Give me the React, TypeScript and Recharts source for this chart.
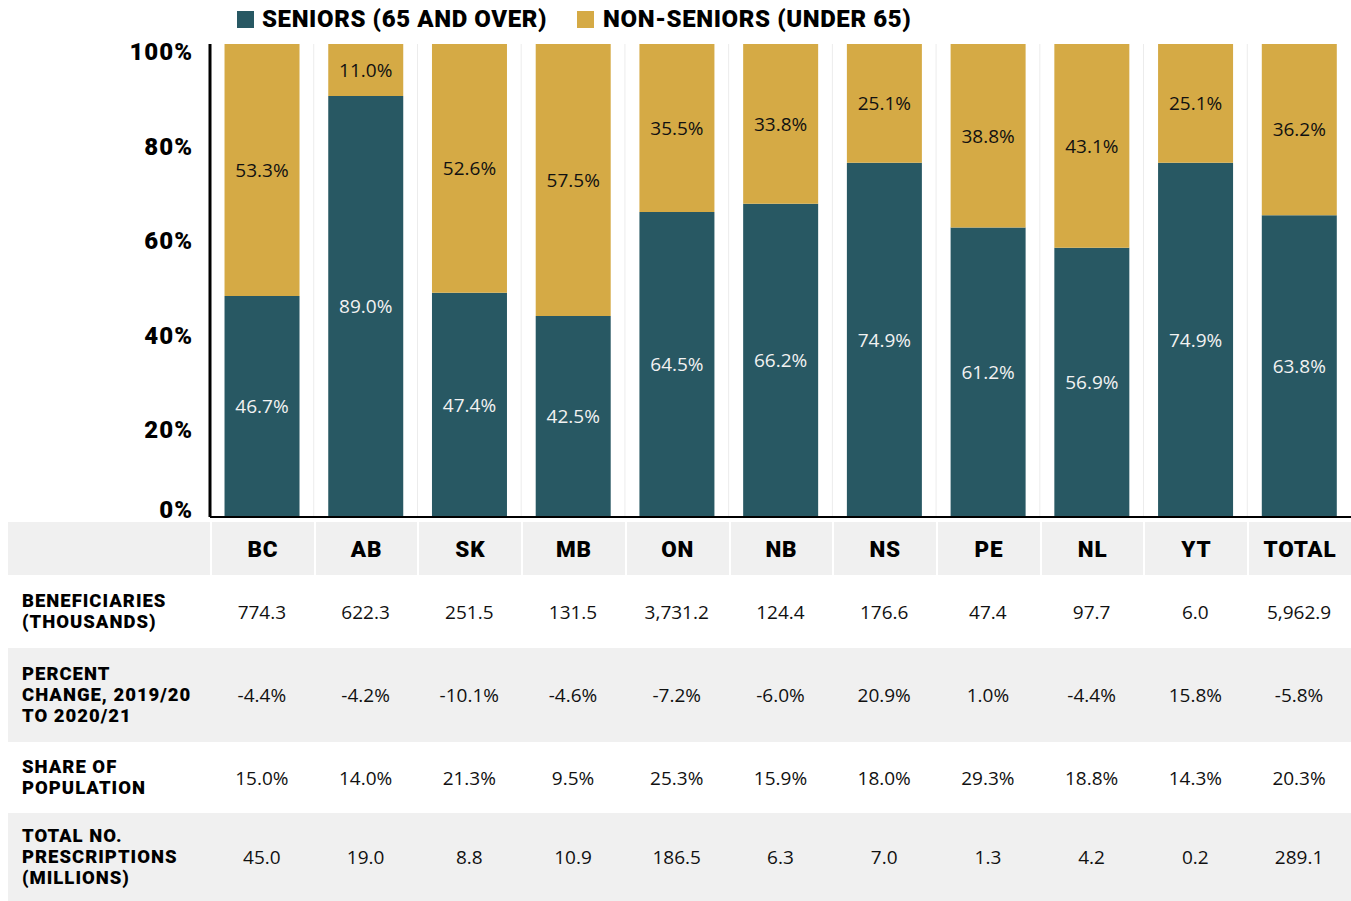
import React from "react";
import { BarChart, Bar, XAxis, YAxis, CartesianGrid, LabelList, ReferenceLine } from "recharts";

const categories = ["BC", "AB", "SK", "MB", "ON", "NB", "NS", "PE", "NL", "YT", "TOTAL"];
const seniors = [46.7, 89.0, 47.4, 42.5, 64.5, 66.2, 74.9, 61.2, 56.9, 74.9, 63.8];
const nonSeniors = [53.3, 11.0, 52.6, 57.5, 35.5, 33.8, 25.1, 38.8, 43.1, 25.1, 36.2];
const yTicks = [0, 20, 40, 60, 80, 100];
const seriesNames = ["SENIORS (65 AND OVER)", "NON-SENIORS (UNDER 65)"];

const rowLabels = [
  ["BENEFICIARIES", "(THOUSANDS)"],
  ["PERCENT", "CHANGE, 2019/20", "TO 2020/21"],
  ["SHARE OF", "POPULATION"],
  ["TOTAL NO.", "PRESCRIPTIONS", "(MILLIONS)"],
];
const beneficiaries = ["774.3", "622.3", "251.5", "131.5", "3,731.2", "124.4", "176.6", "47.4", "97.7", "6.0", "5,962.9"];
const percentChange = ["-4.4%", "-4.2%", "-10.1%", "-4.6%", "-7.2%", "-6.0%", "20.9%", "1.0%", "-4.4%", "15.8%", "-5.8%"];
const shareOfPopulation = ["15.0%", "14.0%", "21.3%", "9.5%", "25.3%", "15.9%", "18.0%", "29.3%", "18.8%", "14.3%", "20.3%"];
const totalPrescriptions = ["45.0", "19.0", "8.8", "10.9", "186.5", "6.3", "7.0", "1.3", "4.2", "0.2", "289.1"];

const TEAL = "#285863";
const GOLD = "#D5AA45";
const HEAD_FONT = "Roboto, 'Noto Sans', sans-serif";
const NUM_FONT = "'Open Sans', 'Noto Sans', sans-serif";

const data = categories.map((c, i) => ({ name: c, seniors: seniors[i], nonSeniors: nonSeniors[i] }));

const CHART_W = 1351;
const CHART_H = 532;
const Y_W = 210;

const YTick = (props: any) => {
  const { x, y, payload } = props;
  const dy = payload.value === 0 ? 1 : 16;
  return (
    <text
      x={x - 9}
      y={y + dy}
      textAnchor="end"
      fontFamily={HEAD_FONT}
      fontWeight={900}
      fontSize={24}
      letterSpacing={1}
      fill="#000"
    >
      {payload.value}%
    </text>
  );
};

const fmt = (v: any) => `${Number(v).toFixed(1)}%`;

const tableRows = [
  { label: rowLabels[0], values: beneficiaries, h: 73, bg: "#ffffff" },
  { label: rowLabels[1], values: percentChange, h: 94, bg: "#f0f0f0" },
  { label: rowLabels[2], values: shareOfPopulation, h: 71, bg: "#ffffff" },
  { label: rowLabels[3], values: totalPrescriptions, h: 88, bg: "#f0f0f0" },
];

export default function App() {
  const colW = (CHART_W - Y_W) / categories.length;
  return (
    <div style={{ position: "absolute", left: 0, top: 0, width: CHART_W, height: 901, background: "#fff", overflow: "hidden" }}>
      <div
        style={{
          position: "absolute",
          left: 237,
          top: 5,
          display: "flex",
          alignItems: "center",
          fontFamily: HEAD_FONT,
          fontWeight: 900,
          fontSize: 24,
          letterSpacing: 0.6,
          color: "#000",
          whiteSpace: "nowrap",
          zIndex: 2,
        }}
      >
        <span style={{ width: 17, height: 17, background: TEAL, display: "inline-block", marginRight: 8 }} />
        <span style={{ marginRight: 30 }}>{seriesNames[0]}</span>
        <span style={{ width: 17, height: 17, background: GOLD, display: "inline-block", marginRight: 9 }} />
        <span>{seriesNames[1]}</span>
      </div>
      <BarChart
        width={CHART_W}
        height={CHART_H}
        data={data}
        margin={{ top: 44, right: 0, left: 0, bottom: 15 }}
        barCategoryGap="14%"
      >
        <CartesianGrid
          horizontal={false}
          stroke="#ececec"
          strokeWidth={1}
          verticalCoordinatesGenerator={({ offset }: any) =>
            categories.slice(1).map((_, i) => offset.left + ((i + 1) * offset.width) / categories.length)
          }
        />
        <XAxis dataKey="name" hide />
        <YAxis
          width={Y_W}
          domain={[0, 100]}
          ticks={yTicks}
          interval={0}
          tick={<YTick />}
          tickLine={false}
          axisLine={{ stroke: "#000", strokeWidth: 3 }}
        />
        <Bar dataKey="seniors" name={seriesNames[0]} stackId="a" fill={TEAL} isAnimationActive={false}>
          <LabelList dataKey="seniors" position="center" formatter={fmt} fill="#f2f2f2" fontSize={19} fontFamily={NUM_FONT} />
        </Bar>
        <Bar dataKey="nonSeniors" name={seriesNames[1]} stackId="a" fill={GOLD} isAnimationActive={false}>
          <LabelList dataKey="nonSeniors" position="center" formatter={fmt} fill="#111" fontSize={19} fontFamily={NUM_FONT} />
        </Bar>
        <ReferenceLine y={0} stroke="#000" strokeWidth={2} />
      </BarChart>

      <div style={{ position: "absolute", left: 8, top: 522, width: CHART_W - 8, background: "#fff" }}>
        <div style={{ display: "flex", height: 53, background: "#f0f0f0" }}>
          <div style={{ width: Y_W - 8 }} />
          {categories.map((c) => (
            <div
              key={c}
              style={{
                width: colW,
                borderLeft: "2px solid #fff",
                boxSizing: "border-box",
                display: "flex",
                alignItems: "center",
                justifyContent: "center",
                fontFamily: HEAD_FONT,
                fontWeight: 900,
                fontSize: 22.5,
                letterSpacing: 0.8,
                color: "#000",
              }}
            >
              {c}
            </div>
          ))}
        </div>
        {tableRows.map((r, ri) => (
          <div key={ri} style={{ display: "flex", height: r.h, background: r.bg }}>
            <div
              style={{
                width: Y_W - 8,
                boxSizing: "border-box",
                paddingLeft: 14,
                display: "flex",
                flexDirection: "column",
                justifyContent: "center",
                fontFamily: HEAD_FONT,
                fontWeight: 900,
                fontSize: 18.5,
                letterSpacing: 1,
                lineHeight: "21px",
                color: "#000",
                whiteSpace: "nowrap",
              }}
            >
              {r.label.map((l, li) => (
                <div key={li} style={{ height: 21 }}>{l}</div>
              ))}
            </div>
            {r.values.map((v, vi) => (
              <div
                key={vi}
                style={{
                  width: colW,
                  display: "flex",
                  alignItems: "center",
                  justifyContent: "center",
                  fontFamily: NUM_FONT,
                  fontSize: 19,
                  color: "#111",
                }}
              >
                {v}
              </div>
            ))}
          </div>
        ))}
      </div>
    </div>
  );
}
